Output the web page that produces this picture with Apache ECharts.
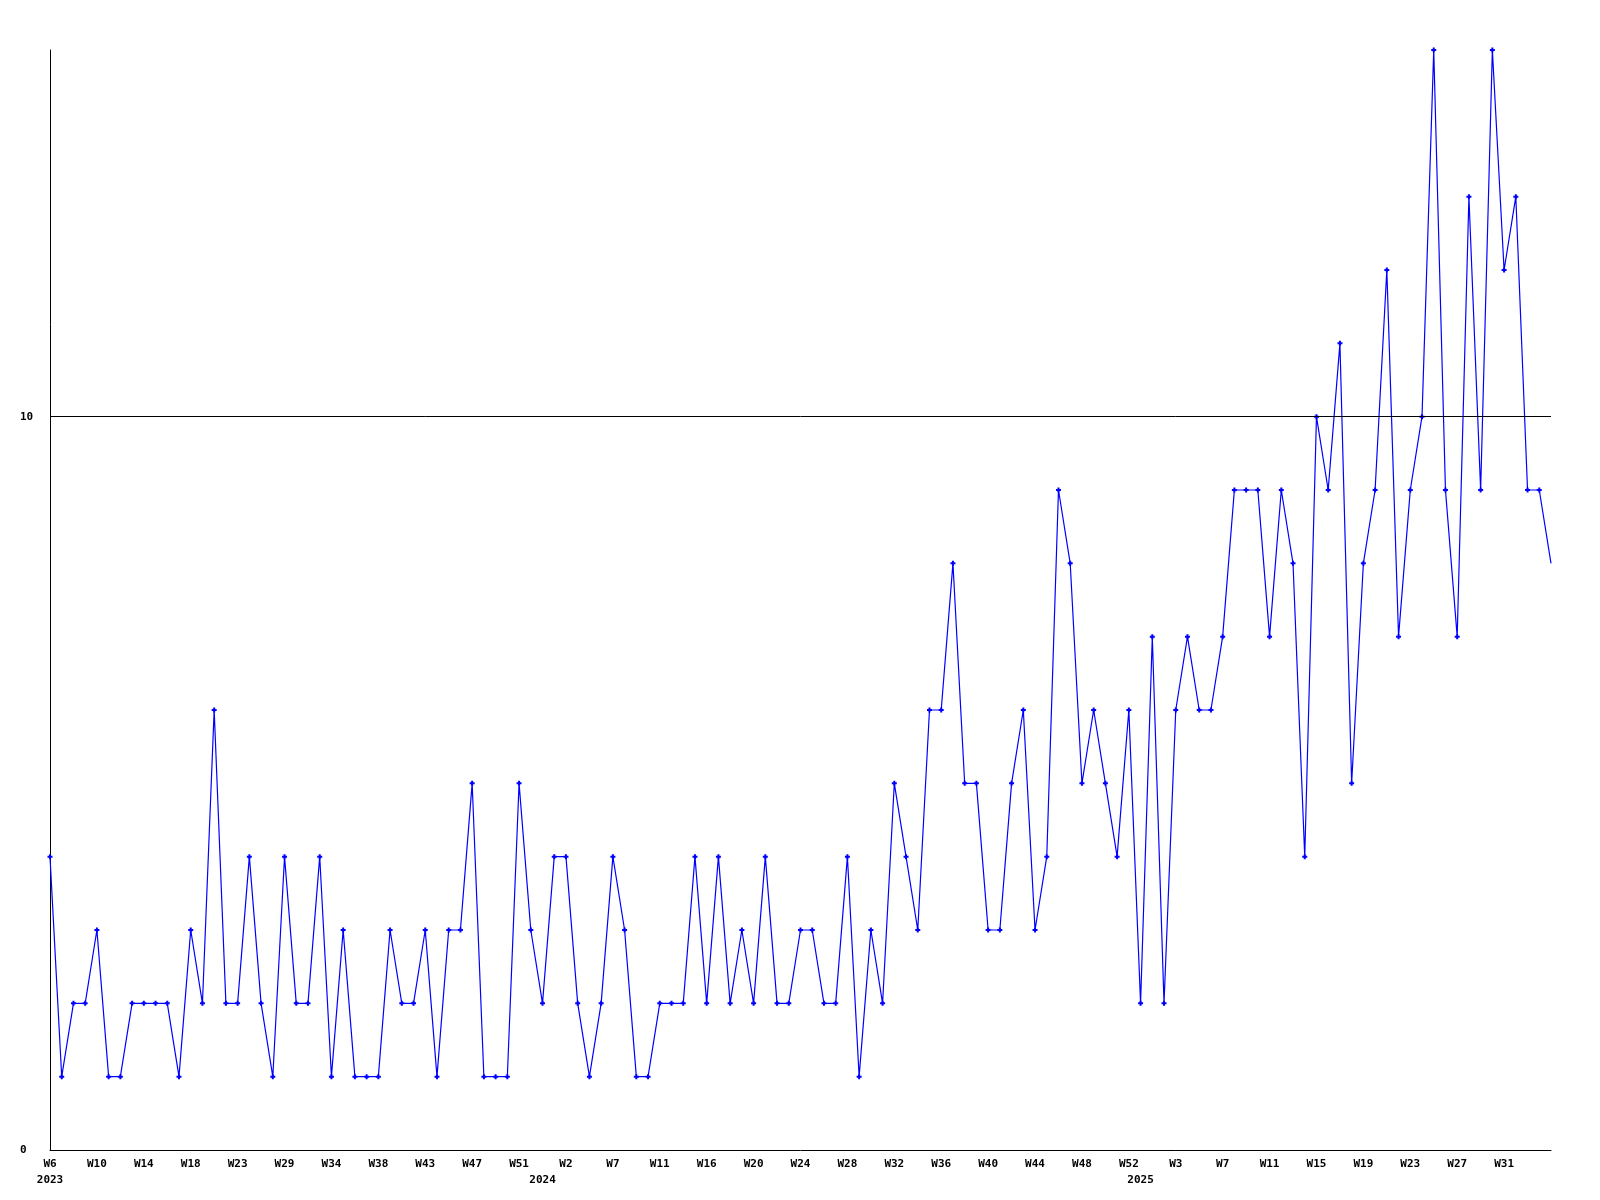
<!DOCTYPE html>
<html>
<head>
<meta charset="utf-8">
<script src="https://cdn.jsdelivr.net/npm/echarts@6/dist/echarts.min.js"></script>
<style>
html,body{margin:0;padding:0;background:#fff;}
#chart{width:1600px;height:1200px;}
</style>
</head>
<body>
<div id="chart"></div>
<script>
// Weekly categories (year-week)
const categories = [
  '2023-W6','2023-W7','2023-W8','2023-W9','2023-W10','2023-W11','2023-W12','2023-W13','2023-W14','2023-W15',
  '2023-W16','2023-W17','2023-W18','2023-W19','2023-W20','2023-W22','2023-W23','2023-W24','2023-W26','2023-W28',
  '2023-W29','2023-W30','2023-W31','2023-W33','2023-W34','2023-W35','2023-W36','2023-W37','2023-W38','2023-W39',
  '2023-W40','2023-W42','2023-W43','2023-W44','2023-W45','2023-W46','2023-W47','2023-W48','2023-W49','2023-W50',
  '2023-W51','2023-W52',
  '2024-W0','2024-W1','2024-W2','2024-W3','2024-W4','2024-W6','2024-W7','2024-W8','2024-W9','2024-W10',
  '2024-W11','2024-W12','2024-W13','2024-W15','2024-W16','2024-W17','2024-W18','2024-W19','2024-W20','2024-W21',
  '2024-W22','2024-W23','2024-W24','2024-W25','2024-W26','2024-W27','2024-W28','2024-W29','2024-W30','2024-W31',
  '2024-W32','2024-W33','2024-W34','2024-W35','2024-W36','2024-W37','2024-W38','2024-W39','2024-W40','2024-W41',
  '2024-W42','2024-W43','2024-W44','2024-W45','2024-W46','2024-W47','2024-W48','2024-W49','2024-W50','2024-W51',
  '2024-W52',
  '2025-W0','2025-W1','2025-W2','2025-W3','2025-W4','2025-W5','2025-W6','2025-W7','2025-W8','2025-W9',
  '2025-W10','2025-W11','2025-W12','2025-W13','2025-W14','2025-W15','2025-W16','2025-W17','2025-W18','2025-W19',
  '2025-W20','2025-W21','2025-W22','2025-W23','2025-W24','2025-W25','2025-W26','2025-W27','2025-W28','2025-W29',
  '2025-W30','2025-W31','2025-W32','2025-W33','2025-W34','2025-W35'
];

const values = [
  4,1,2,2,3,1,1,2,2,2,
  2,1,3,2,6,2,2,4,2,1,
  4,2,2,4,1,3,1,1,1,3,
  2,2,3,1,3,3,5,1,1,1,
  5,3,2,4,4,2,1,2,4,3,
  1,1,2,2,2,4,2,4,2,3,
  2,4,2,2,3,3,2,2,4,1,
  3,2,5,4,3,6,6,8,5,5,
  3,3,5,6,3,4,9,8,5,6,
  5,4,6,2,7,2,6,7,6,6,
  7,9,9,9,7,9,8,4,10,9,
  11,5,8,9,12,7,9,10,15,9,
  7,13,9,15,12,13,9,9,8
];

const yMin = 0, yMax = 15, yInterval = 10;
const refLine = 10;
const labelEvery = 4;

const weekOf = c => c.split('-')[1];
const yearOf = c => c.split('-')[0];
const yearLabels = categories.map((c, i) => (i === 0 || yearOf(categories[i-1]) !== yearOf(c)) ? yearOf(c) : '');

const FONT = '"DejaVu Sans Mono", "Liberation Mono", monospace';
const plus = 'path://M1.5,0L3.5,0L3.5,1.5L5,1.5L5,3.5L3.5,3.5L3.5,5L1.5,5L1.5,3.5L0,3.5L0,1.5L1.5,1.5Z';

const chart = echarts.init(document.getElementById('chart'), null, {renderer: 'canvas'});
chart.setOption({
  animation: false,
  backgroundColor: '#ffffff',
  grid: {left: 50, right: 49, top: 50, bottom: 50, containLabel: false},
  xAxis: [{
    type: 'category',
    data: categories,
    boundaryGap: false,
    axisLine: {show: true, lineStyle: {color: '#000', width: 1}},
    axisTick: {show: false},
    splitLine: {show: false},
    axisLabel: {
      interval: (i) => i % labelEvery === 0 && i < categories.length - 1,
      margin: 9,
      color: '#000',
      fontFamily: FONT,
      fontWeight: 'bold',
      fontSize: 11,
      formatter: v => weekOf(v)
    }
  }, {
    type: 'category',
    data: categories,
    boundaryGap: false,
    position: 'bottom',
    offset: 16,
    axisLine: {show: false},
    axisTick: {show: false},
    splitLine: {show: false},
    axisLabel: {
      interval: (i) => yearLabels[i] !== '',
      margin: 9,
      color: '#000',
      fontFamily: FONT,
      fontWeight: 'bold',
      fontSize: 11,
      formatter: (v, i) => yearLabels[i]
    }
  }],
  yAxis: {
    type: 'value',
    min: yMin,
    max: yMax,
    interval: yInterval,
    axisLine: {show: true, lineStyle: {color: '#000', width: 1}},
    axisTick: {show: false},
    splitLine: {show: false},
    axisLabel: {
      margin: 30,
      align: 'left',
      color: '#000',
      fontFamily: FONT,
      fontWeight: 'bold',
      fontSize: 11,
      showMaxLabel: false,
      formatter: v => (v === yMax ? '' : String(v))
    }
  },
  series: [{
    type: 'line',
    xAxisIndex: 0,
    data: values.map((v, i) => i === values.length - 1 ? {value: v, symbol: 'none'} : v),
    symbol: plus,
    symbolSize: 5,
    showSymbol: true,
    showAllSymbol: true,
    lineStyle: {color: '#0000ff', width: 1.2},
    itemStyle: {color: '#0000ff'},
    markLine: {
      silent: true,
      symbol: ['none', 'none'],
      label: {show: false},
      lineStyle: {color: '#000', width: 1, type: 'solid'},
      data: [{yAxis: refLine}]
    },
    z: 3
  }]
});
</script>
</body>
</html>
